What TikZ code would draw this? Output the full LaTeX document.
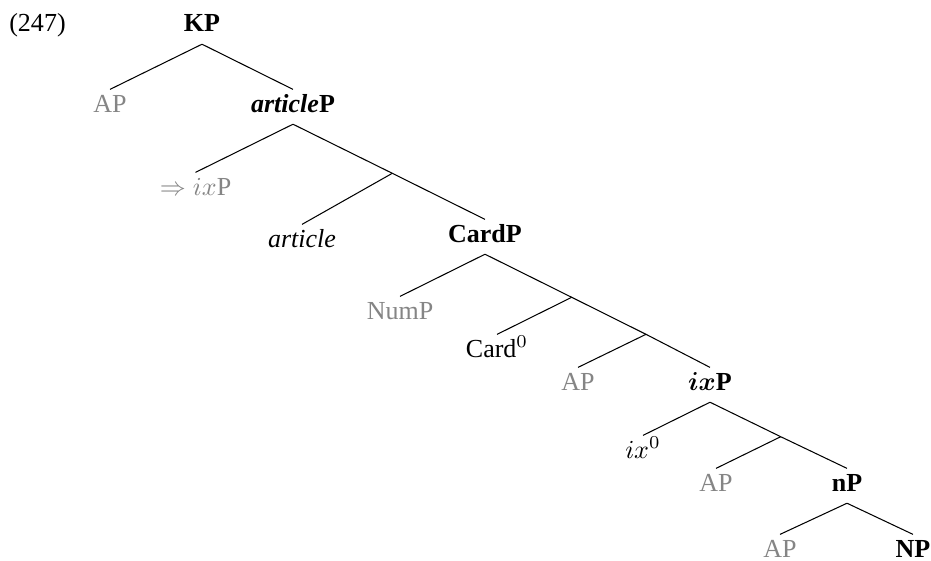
\documentclass[tikz,border=0pt]{standalone}
\usepackage{fontspec}
\setmainfont{Liberation Serif}
\usepackage{amsmath}
\usetikzlibrary{calc}
\definecolor{apgray}{gray}{0.52}
\tikzset{
  cat/.style={anchor=base, inner sep=1pt, text height=7.5pt, text depth=3.5pt},
  headcat/.style={cat, font=\bfseries},
  fadedcat/.style={cat, text=apgray},
  branch/.style={line width=0.4pt}
}

\begin{document}
\begin{tikzpicture}[x=0.3846pt, y=-0.3846pt]
  \useasboundingbox (0,0) rectangle (931,560);
  \node (ex) [anchor=base, inner sep=0pt] at (37.5,32) {(247)};

  % nodos del arbol (en px de la figura, base de linea)
  \node (KP) [headcat] at (202,32) {KP};
  \node (AP1) [fadedcat] at (110,112) {AP};
  \node (articleP) [headcat] at (293,112) {\textit{article}P};
  \node (ixP1) [fadedcat] at (195.5,195) {$\Rightarrow ix$P};
  \node (article) [cat] at (302,247) {\textit{article}};
  \node (CardP) [headcat] at (485,242) {CardP};
  \node (NumP) [fadedcat] at (400,319) {NumP};
  \node (Card) [cat] at (497,357) {Card$^0$};
  \node (AP2) [fadedcat] at (578,390) {AP};
  \node (ixP) [headcat] at (710,390) {$\boldsymbol{ix}$P};
  \node (ix) [cat] at (643,458) {$ix^0$};
  \node (AP3) [fadedcat] at (716,491) {AP};
  \node (nP) [headcat] at (847,491) {nP};
  \node (AP4) [fadedcat] at (780,557) {AP};
  \node (NP) [headcat] at (913,557) {NP};

  % nodos vacios (proyecciones intermedias)
  \coordinate (bar1) at (392.3,173.3);
  \coordinate (bar2) at (571.7,297.3);
  \coordinate (bar3) at (646,334.3);
  \coordinate (bar4) at (780.7,436.7);

  \draw [branch] (KP.south) -- (AP1.north);
  \draw [branch] (KP.south) -- (articleP.north);
  \draw [branch] (articleP.south) -- (ixP1.north);
  \draw [branch] (articleP.south) -- (bar1);
  \draw [branch] (bar1) -- (article.north);
  \draw [branch] (bar1) -- (CardP.north);
  \draw [branch] (CardP.south) -- (NumP.north);
  \draw [branch] (CardP.south) -- (bar2);
  \draw [branch] (bar2) -- (Card.north);
  \draw [branch] (bar2) -- (bar3);
  \draw [branch] (bar3) -- (AP2.north);
  \draw [branch] (bar3) -- (ixP.north);
  \draw [branch] (ixP.south) -- (ix.north);
  \draw [branch] (ixP.south) -- (bar4);
  \draw [branch] (bar4) -- (AP3.north);
  \draw [branch] (bar4) -- (nP.north);
  \draw [branch] (nP.south) -- (AP4.north);
  \draw [branch] (nP.south) -- (NP.north);
\end{tikzpicture}
\end{document}
